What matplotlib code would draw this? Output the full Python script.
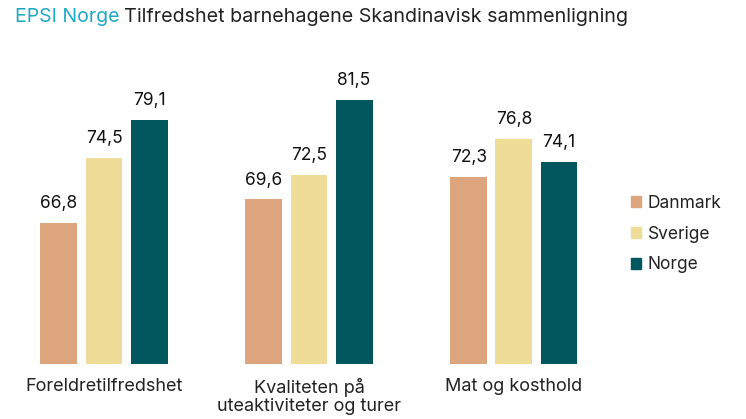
import matplotlib.pyplot as plt
import numpy as np
from matplotlib.patches import Patch

plt.rcParams['font.family'] = ['Inter', 'DejaVu Sans']

categories = ['Foreldretilfredshet', 'Kvaliteten på\nuteaktiviteter og turer', 'Mat og kosthold']
countries = ['Danmark', 'Sverige', 'Norge']
danmark = [66.8, 69.6, 72.3]
sverige = [74.5, 72.5, 76.8]
norge = [79.1, 81.5, 74.1]
colors = ['#DDA57E', '#EEDC98', '#02575F']

fig = plt.figure(figsize=(7.46, 4.19), dpi=100)
ax = fig.add_axes([20 / 746, 1 - 364 / 419, 580 / 746, 324 / 419])

x = np.arange(len(categories))
w = 0.18
off = 0.22
for i, (vals, c) in enumerate(zip([danmark, sverige, norge], colors)):
    ax.bar(x + (i - 1) * off, np.array(vals) - 50, width=w, bottom=50, color=c)
    for xi, v in zip(x + (i - 1) * off, vals):
        ax.text(xi, v + 1.3, f'{v:.1f}'.replace('.', ','), ha='center', va='bottom',
                fontsize=12.5, color='#111111')

ax.set_xlim(-0.41, 2.42)
ax.set_ylim(50, 88.6)
ax.set_xticks(x)
ax.set_xticklabels(categories, fontsize=13, color='#222222', linespacing=1.1)
ax.tick_params(axis='x', length=0, pad=10)
ax.set_yticks([])
for s in ax.spines.values():
    s.set_visible(False)

handles = [Patch(color=c) for c in colors]
fig.legend(handles, countries, loc='center left', bbox_to_anchor=(615 / 746, 1 - 234 / 419),
           frameon=False, fontsize=12.5, handlelength=0.6, handleheight=0.6,
           handletextpad=0.4, labelspacing=0.8, labelcolor='#222222')

t1 = fig.text(15 / 746, 1 - 17 / 419, 'EPSI Norge', fontsize=14, color='#1BA9C4', va='center')
fig.canvas.draw()
bb = t1.get_window_extent()
fig.text((bb.x1 + 5) / 746, 1 - 17 / 419, 'Tilfredshet barnehagene Skandinavisk sammenligning',
         fontsize=14.2, color='#222222', va='center')

fig.savefig('out.png', dpi=100)
